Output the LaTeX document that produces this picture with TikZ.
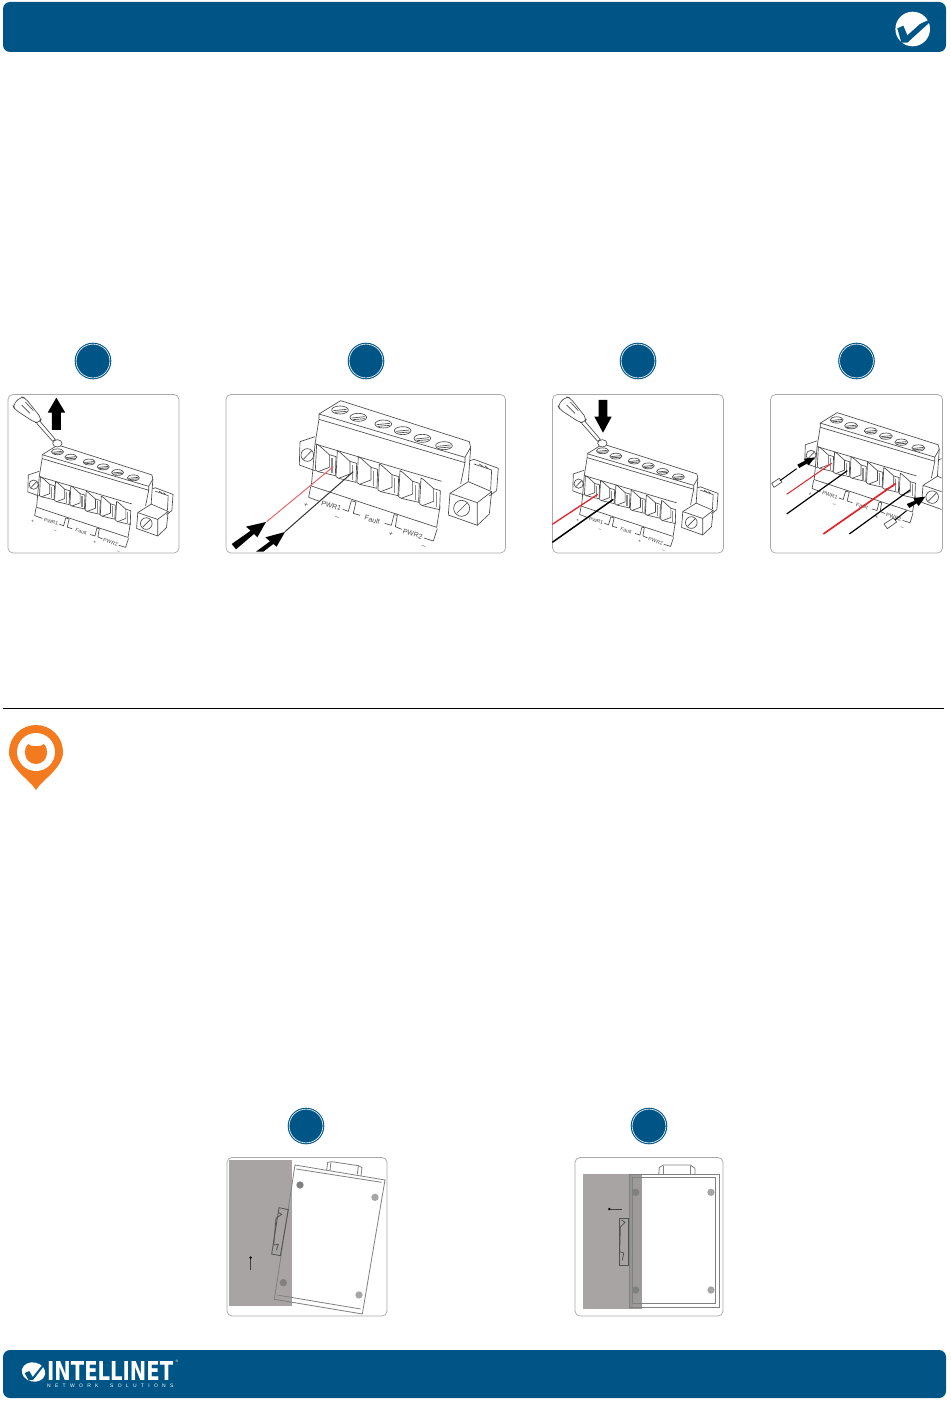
\documentclass[tikz,border=0pt]{standalone}
\usepackage{fontspec}
\usepackage{graphicx}
\setmainfont{Liberation Sans}
\newfontfamily\logobig{DejaVu Sans}
\definecolor{brandblue}{HTML}{005587}
\definecolor{pinorange}{HTML}{F47A20}
\definecolor{panelline}{HTML}{A9A9A9}
\definecolor{wallgray}{HTML}{A8A4A3}
\definecolor{linegray}{HTML}{4A4A4A}
\definecolor{wirered}{HTML}{E0252B}
\tikzset{
  panelbox/.style={draw=panelline,line width=.7pt,rounded corners=5pt},
  conn/.style={draw=linegray,line width=.65pt,line join=round},
  devline/.style={draw=black!50,line width=.8pt},
  railline/.style={draw=black!68,line width=.8pt},
  bigarrow/.style={fill=black,draw=none},
  devscrew/.style={fill=black!35,draw=none},
  conntext/.style={font=\fontsize{7}{7}\selectfont,text=linegray,inner sep=0pt,rotate=-17}
}
\newcommand{\numdisc}[2]{%
  \fill[brandblue] (#1,#2) circle (18.3);
  \draw[white,line width=.6pt] (#1,#2) circle (16.9);}
\newcommand{\connector}[3]{%
\begin{scope}[shift={(#1,#2)},x=#3*.3333pt,y=-#3*.3333pt]
  \draw[conn] (750,362)--(762,358)--(835,385)--(830,452)--(808,468);
  \draw[conn] (762,372)--(815,390)--(812,450);
  \draw[conn] (778,372)--(790,380) (795,378)--(805,386);
  \draw[conn] (285,290)--(240,305)--(238,375)--(285,392);
  \draw[conn] (262,345) circle (19);
  \draw[conn] (250,358)--(275,332);
  \draw[conn] (690,460)--(772,488)--(772,556)--(685,525)--cycle;
  \draw[conn] (690,460)--(745,425)--(815,455)--(772,488);
  \draw[conn] (815,455)--(808,522)--(772,556);
  \draw[conn] (725,505) circle (24);
  \draw[conn] (710,520)--(740,490);
  \draw[conn] (297,222)--(362,182)--(748,305)--(752,322)--(745,425);
  \draw[conn] (297,222)--(735,352)--(752,322);
  \draw[conn] (297,222)--(297,238)--(735,368)--(735,352);
  \draw[conn] (297,238)--(285,312)--(278,395);
  \draw[conn] (735,368)--(722,432);
  \draw[conn] (285,312)--(665,424);
  \foreach \sx/\sy in {360/210,415/232,490/252,548/272,607/295,672/317}{
    \draw[conn] (\sx,\sy) ellipse [x radius=25,y radius=12];
    \draw[conn] (\sx-20,\sy+2)--(\sx+20,\sy-2);
    \draw[conn] (\sx-16,\sy+7)--(\sx+20,\sy+4);
  }
  \foreach \cx/\cy in {290/312,352/332,415/350,478/372,540/392,603/414}{
    \draw[conn] (\cx,\cy)--(\cx+8,\cy+5)--(\cx+38,\cy+32)--(\cx+38,\cy+70)--(\cx+4,\cy+83)--(\cx-4,\cy+78)--cycle;
    \draw[conn] (\cx+38,\cy+32)--(\cx+58,\cy+38)--(\cx+56,\cy+95)--(\cx+4,\cy+83);
    \draw[draw=black!45,line width=1.3pt] (\cx+46,\cy+42)--(\cx+46,\cy+88);
  }
  \draw[conn] (278,395)--(274,438)--(650,562)--(660,500);
  \draw[conn] (272,440)--(266,472)--(298,484);
  \draw[conn] (368,508)--(385,514)--(394,482)--(408,486)--(400,520)--(420,526);
  \draw[conn] (494,550)--(514,556)--(522,524)--(532,526)--(526,560)--(545,568);
  \draw[conn] (612,594)--(640,603)--(652,566);
  \node[conntext,scale=#3] at (334,497) {PWR1};
  \node[conntext,scale=#3] at (457,539) {Fault};
  \node[conntext,scale=#3] at (578,582) {PWR2};
  \node[conntext,scale=#3] at (258,496) {+};
  \node[conntext,scale=#3] at (350,535) {--};
  \node[conntext,scale=#3] at (513,582) {+};
  \node[conntext,scale=#3] at (610,622) {--};
\end{scope}}
\newcommand{\screwdriver}{%
  \draw[conn,fill=white,rounded corners=4pt] (38,196)--(62,170)--(76,174)--(125,236)--(118,248)--(105,248)--(44,208)--cycle;
  \draw[conn] (65,195)--(90,220) (76,186)--(100,212);
  \draw[conn,fill=white] (120,244)--(166,298)--(158,304)--(110,250);
  \draw[conn,fill=white] (172,310) ellipse [x radius=14,y radius=11];
}
\begin{document}
\begin{tikzpicture}[x=1pt,y=-1pt]
\useasboundingbox (0,0) rectangle (950,1402);
\fill[white] (0,0) rectangle (950,1402);
\fill[brandblue,rounded corners=7pt] (3,2) rectangle (946,52);
\fill[brandblue,rounded corners=7pt] (3,1350) rectangle (946,1398);
\fill[white] (912.7,29) circle (17.3);
\begin{scope}[shift={(870,0)},x=.3333pt,y=-.3333pt]
  \fill[brandblue] (82,85)--(100,77)--(112,106)--(150,72)--(180,58)--(178,68)--(112,128)--(94,128)--cycle;
\end{scope}
\draw[black,line width=.9pt] (3,708.5)--(944,708.5);
% location pin
\fill[pinorange] (36,790) .. controls (30,780) and (9,768) .. (9,752) arc[start angle=180,end angle=360,radius=27] .. controls (63,768) and (42,780) .. (36,790) -- cycle;
\fill[white] (36,752) circle (19);
\fill[pinorange] (28,744) .. controls (31,747) and (41,747) .. (44,744) .. controls (47,748) and (47,750) .. (47,753) arc[start angle=0,end angle=180,radius=11] .. controls (25,750) and (25,748) .. (28,744) -- cycle;
\numdisc{93}{361}
\numdisc{366}{361}
\numdisc{638}{361}
\numdisc{856.5}{361}
\numdisc{306}{1126}
\numdisc{649}{1126}
\draw[panelbox] (8,394.5) rectangle (179,553);
\draw[panelbox] (226,394.5) rectangle (505.5,553);
\draw[panelbox] (552.5,394.5) rectangle (723.5,553);
\draw[panelbox] (770.5,394.5) rectangle (942.5,553);
% panel 1
\connector{-30.1}{400.7}{.73}
\begin{scope}[shift={(0,340)},x=.3333pt,y=-.3333pt]
  \screwdriver
  \fill[bigarrow] (143,218)--(169,173)--(196,218)--(183,218)--(183,270)--(156,270)--(156,218)--cycle;
\end{scope}
% panel 2
\connector{220}{340}{1}
\begin{scope}[shift={(220,340)},x=.3333pt,y=-.3333pt]
  \draw[draw=wirered!70!white,line width=1pt] (140,545)--(340,380);
  \draw[draw=black!80,line width=1pt] (195,575)--(400,395);
  \fill[bigarrow] (35,612)--(92,572)--(78,560)--(138,546)--(112,592)--(102,582)--(48,628)--cycle;
  \fill[bigarrow] (108,635)--(150,604)--(136,592)--(195,576)--(170,620)--(160,612)--(130,635)--cycle;
\end{scope}
% panel 3
\connector{514.9}{399.7}{.73}
\begin{scope}[shift={(545,340)},x=.3333pt,y=-.3333pt]
  \screwdriver
  \fill[bigarrow] (161,180)--(187,180)--(187,230)--(200,230)--(174,278)--(148,230)--(161,230)--cycle;
  \draw[wirered,line width=1.3pt] (22,553)--(158,463);
  \draw[black,line width=1.5pt] (22,607)--(205,478);
\end{scope}
% panel 4
\begin{scope}
  \clip (771,395) rectangle (941.7,552);
  \connector{742.5}{365}{.785}
\end{scope}
\begin{scope}[shift={(760,340)},x=.3333pt,y=-.3333pt]
  \draw[wirered,line width=1pt] (80,463)--(215,370);
  \draw[black,line width=1.2pt] (80,522)--(262,392);
  \draw[wirered,line width=1.7pt] (190,582)--(408,430);
  \draw[black,line width=1.2pt] (268,582)--(450,450);
  \draw[conn,fill=white] (35,430)--(58,415)--(66,426)--(42,442)--cycle;
  \draw[black,line width=1pt] (60,422)--(110,386);
  \fill[bigarrow] (112,374)--(135,362)--(132,356)--(165,352)--(146,376)--(142,370)--(118,384)--cycle;
  \draw[conn,fill=white] (372,552)--(400,534)--(410,546)--(382,566)--cycle;
  \draw[black,line width=1pt] (405,540)--(440,512);
  \fill[bigarrow] (440,492)--(465,482)--(460,474)--(496,470)--(476,498)--(470,490)--(448,504)--cycle;
\end{scope}
% bottom panels
\fill[wallgray] (229,1160) rectangle (292,1306);
\fill[wallgray] (583,1174) rectangle (642,1309);
\fill[black!50,opacity=.45] (629,1174) rectangle (633,1309);
\fill[black,opacity=.06] (633,1174) rectangle (642,1309);
\draw[panelbox] (227,1157.5) rectangle (387,1316);
\draw[panelbox] (575,1157.5) rectangle (723,1316);
\begin{scope}[shift={(215,1105)},x=.3333pt,y=-.3333pt]
  \draw[devline] (240,180)--(510,225)--(442,627)--(178,583)--cycle;
  \draw[devline] (244,192)--(500,232);
  \draw[devline] (186,570)--(437,612);
  \draw[devline] (335,196)--(338,172)--(350,170)--(430,182)--(441,188)--(438,213);
  \draw[devline] (348,172)--(345,197) (430,182)--(427,208);
  \draw[railline] (192,308)--(220,314)--(196,452)--(170,447)--cycle;
  \draw[railline] (190,322)--(200,328)--(183,340)--(176,420)--(190,418)--(184,436);
  \fill[devscrew,fill=black!50] (255,240) circle (11);
  \fill[devscrew] (480,277) circle (11);
  \fill[devscrew,fill=black!50] (205,533) circle (11);
  \fill[devscrew] (432,570) circle (11);
  \draw[black!75,line width=.6pt] (107,495)--(107,462);
  \fill[black] (107,458) circle (4);
\end{scope}
\begin{scope}[shift={(565,1105)},x=.3333pt,y=-.3333pt]
  \draw[devline] (192,208)--(462,208)--(462,608)--(192,608)--cycle;
  \draw[devline] (203,218)--(452,218)--(452,596)--(203,596)--cycle;
  \draw[devline] (281,210)--(283,188)--(295,180)--(376,180)--(390,190)--(390,210);
  \draw[devline] (295,182)--(295,210) (376,182)--(376,210);
  \draw[railline] (164,340)--(190,340)--(190,480)--(164,480)--cycle;
  \draw[railline] (170,345)--(180,352)--(166,366)--(164,440)--(176,444)--(172,466);
  \fill[devscrew,fill=black!50] (212,262) circle (11);
  \fill[devscrew] (438,262) circle (11);
  \fill[devscrew,fill=black!50] (212,555) circle (11);
  \fill[devscrew] (438,555) circle (11);
  \draw[black!75,line width=.6pt] (170,312)--(136,312);
  \fill[black] (133,312) circle (4);
\end{scope}
% footer logo
\begin{scope}[shift={(33.5,1372)},rotate=-12]
  \fill[white] (0,0) ellipse [x radius=11.8,y radius=9.6];
\end{scope}
\begin{scope}[shift={(0,1345)},x=.3333pt,y=-.3333pt]
  \fill[brandblue] (74,84)--(88,78)--(98,96)--(122,66)--(132,58)--(128,68)--(100,104)--(86,106)--cycle;
\end{scope}
\node[inner sep=0pt,anchor=west,text=white] (logoword) at (47,1370.5) {\resizebox{126pt}{19pt}{\logobig\bfseries INTELLINET}};
\node[inner sep=0pt,text=white,font=\fontsize{3.5}{3.5}\selectfont] (logoreg) at (177,1361) {®};
\node[inner sep=0pt,anchor=west,text=white,font=\fontsize{5}{5}\selectfont] (logosub) at (47,1385.7) {\spaceskip=4.3pt N E T W O R K \hspace{3pt} S O L U T I O N S};
\end{tikzpicture}
\end{document}
